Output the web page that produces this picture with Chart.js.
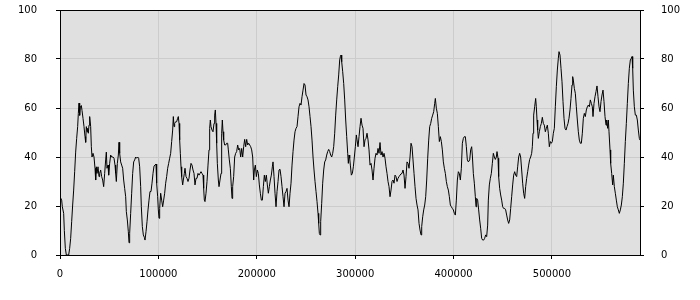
<!DOCTYPE html>
<html><head><meta charset="utf-8">
<script src="https://cdn.jsdelivr.net/npm/chart.js@4"></script>
<style>html,body{margin:0;padding:0;background:#fff}#c{display:block}</style>
</head><body>
<canvas id="c" width="700" height="300"></canvas>
<script>
const xs=[0,1694,2372,3727,4404,5421,6437,8809,9825,10842,11858,12874,13891,14907,15924,16940,17956,18634,19312,19989,20667,21683,22361,23377,24394,25410,26088,26765,27443,28120,28798,29476,30153,31170,31847,32525,33541,34558,35574,36252,36929,37607,38623,39640,40317,41334,42350,43366,44383,45399,46416,47093,47771,48787,49465,50481,51498,52514,53869,54886,55902,56580,57257,58274,59290,59968,60645,61662,62678,63694,64711,65727,66744,67421,68438,69454,70132,70809,71826,72842,73858,74875,75891,76908,77924,78940,79957,80973,81990,82667,83684,84700,85716,86394,87410,88427,89443,90460,91476,92492,93509,94525,95542,96558,97574,98252,99268,99946,100624,101301,102318,103334,104350,105367,106383,107400,108416,109432,110449,111465,112482,113498,114514,115192,115870,116547,117564,118580,119596,120274,120952,121629,122307,122984,123662,124678,125356,126372,127050,128066,129083,130099,131116,132132,133148,134165,135181,136198,137214,138230,139247,140263,141280,142296,143312,144329,145345,146023,146700,147378,148394,149411,150427,151444,152121,152799,153476,154493,155509,156526,157203,157881,158558,159236,159914,160930,161608,162624,163640,164318,164996,165673,166351,167367,168384,169400,170416,171094,172110,173127,174143,174821,175498,176515,177531,178548,179564,180580,181597,182613,
183645,184662,185678,186695,187711,188727,189744,190760,191777,192793,193809,194826,195842,196859,197536,198553,199569,200585,201602,202618,203635,204651,205667,206684,207700,208717,209733,210749,211766,212782,213799,214815,215831,216509,217525,218542,219558,220575,221591,222607,223624,224640,225657,226673,227689,228706,229722,230739,231755,232771,233788,234804,235821,236837,237853,238870,239886,240903,241919,242935,243952,244968,245985,247001,248017,249034,250050,251067,252083,253099,254116,255132,256149,257165,258181,259198,260214,261231,262247,262925,263602,264280,264957,265974,266990,268007,269023,270039,271056,272072,273089,274105,275121,276138,277154,278171,279187,280203,281220,282236,283253,284269,284947,285624,286302,287318,288335,289351,290367,291384,292400,293078,293755,294433,295111,296127,297143,298160,299176,300193,301209,301887,302903,303919,304936,305952,306969,307985,309001,310018,311034,312051,313067,314083,315100,316116,317133,318149,319165,320182,321198,322215,323231,324247,325264,326280,327297,328313,329329,330346,331362,332379,333395,334411,335428,336444,337461,338477,339493,340510,341526,342543,343559,344575,345592,346608,347625,348641,349657,350674,351690,352707,353723,354739,355756,356772,357789,358805,359821,360838,361854,362871,363887,364903,365920,366936,367614,368630,369647,370663,371679,372696,373712,374729,375745,376761,377778,378794,379811,380827,381505,382521,383537,384554,385570,386587,387603,388619,389636,390652,391669,392685,393701,394718,395734,396751,397767,398783,399800,400816,401833,402849,403865,404882,405898,406915,407931,408947,409964,410980,411997,413013,414029,415046,416401,
417395,418412,419089,420106,421122,422139,422816,423494,424510,425527,426543,427559,428576,429592,430609,431625,432641,433658,434674,435352,436368,437385,438401,439417,440434,441450,442467,443483,444161,445177,445855,446871,447887,448904,449920,450937,451953,452969,453986,455002,456019,457035,458051,459068,460084,461101,462117,463133,464150,465166,466183,467199,468215,469232,470248,471265,472281,473297,474314,475330,476347,477363,478379,479396,480073,480751,481429,482445,483461,484139,484817,485494,486172,487188,488205,489221,490237,491254,492270,493287,494303,495319,496336,497352,498369,499385,500401,501418,502434,503451,504467,505483,506500,507177,508194,509210,510227,511243,512259,513276,514292,515309,516325,517341,518358,519374,520391,521068,521746,522762,523779,524795,525811,526828,527844,528861,529877,530893,531910,532926,533943,534959,535975,536992,538008,539025,540041,541057,541735,542751,543768,544784,545801,546817,547833,548850,549866,550883,551899,552915,553932,554948,555626,556642,557320,557997,559014,559691,560708,561724,562402,563418,564435,565451,566467,567484,568500,569517,570533,571549,572566,573582,574599,575615,576631,577648,578664,579681,580697,581375,582052,582730,583746,584763,585779,586795,587812,588829,589500];
const ys=[23.8,22.4,19.7,17,10,2.7,0,0,2.7,6.8,13.6,20.4,26.5,34,42,47.6,52.4,57.8,62,57,60.5,61,59,55.8,52.4,48.3,46,52.4,50.3,51.7,49.7,53,56.5,52.4,44.2,40,41.5,40,35.4,30.6,36,33.3,36,32,33.3,34.7,32,30.6,27.9,33.3,38.8,42,35.4,36.7,32.6,37.4,40.8,40,40,39.5,36.7,33.3,30,37.4,40.8,46,41.5,38,36.7,35.4,30.6,27.2,23.8,17.7,14.3,9.5,5,8.8,17,25.2,33.3,38,38.8,40,39.5,40,39.5,36,27.9,19.7,11.6,8.2,7.2,6.1,9.5,13.6,18.4,22.4,25.9,25.9,29.3,33.3,36.3,36.7,37.1,29.3,23.8,18.4,15,19,25.2,22.4,19.7,22.4,25.2,29.3,32,35.4,37.4,39.5,41.5,46.3,51,56.5,52.4,53.7,54.4,54.4,55.8,56.5,53.7,47,41.5,36,32,28.6,30.6,33.3,35.4,32,31.3,30,31.3,34.7,37.4,36.7,34.7,33.3,28.6,31.3,31.3,33.3,32.6,33.3,34,33.3,32.6,27.2,22.4,21.8,25.2,30,36.7,42.9,51.7,55.1,52.4,51,50.3,53.7,57.1,59.2,53.7,45.6,37.4,30.6,27.9,30.6,33.3,49.7,55.1,50.3,47,44.9,44.9,45.6,45.6,42.9,38.8,35.4,27.9,23.1,27.9,32,40,41.5,42.2,44.9,42.9,43.5,
40,43.5,40,44.2,47.2,44.2,47.2,44.9,45.6,44.9,44.2,42.9,40,30.6,34.7,36.7,32,34.7,33.3,28.6,25.2,22.4,22.4,27.9,32.6,30,32.6,28.6,25.2,27.9,30.6,32.6,36,38,32,25.2,19.7,25.9,30,34.7,35,32,27.9,23.8,19.7,25.2,25.9,27.2,22.4,19.7,25.2,29.3,36.7,42.2,46.9,50.3,51.7,52.4,56.5,60.5,61.9,61.2,64.6,67.3,70,69.4,65.3,64.6,63.3,60.5,56.5,52.4,46.9,40,34.7,30,25.9,21.8,17,12.9,8.8,8.2,13.6,21.1,29.3,34.7,38,38.8,40.8,42.2,43.1,42.2,40.8,40,41.5,44.2,49.7,57.1,63.3,68.7,73.5,79.6,81,81.6,78.9,74.8,70,63.3,55.1,48.3,41.5,37.4,40.8,39.5,36.7,32.6,33.3,36,40,44.2,49,47,44.2,48.3,52.4,55.8,53,51.7,44.2,47,47.6,49.7,47,42.9,36.7,37.4,34.7,30.6,35.4,39.5,41.5,40.8,43.5,41.5,45.9,40.8,42.2,40,41.5,39.5,36,33.3,30,27.9,23.8,26.5,30,30.6,29.3,32.6,32,30,31.3,32,32.6,33.1,33.3,34.7,32.6,27.2,32,38,37.4,35.4,40,45.6,44.2,38.8,33.3,27.9,23.1,20.4,18.4,12.9,10.2,8.2,11.6,15.6,18.4,20.4,23.8,30.6,39.5,46.9,52.4,53.7,55.8,57.1,58.5,61.9,63.9,59.9,57.8,52.4,46.3,48.3,46.3,42.9,38,35.4,33.3,30,27.9,26.5,23.8,20.4,19.7,19,18.4,17,16.3,22.4,30.6,34,33.3,30.6,35.4,45.6,47.6,48.3,48.3,44.2,38.8,38,38.8,
42.9,44.2,40.8,33.3,29.3,23.8,19.7,23.1,22.4,18.4,14.3,10.9,6.8,6.1,6.1,6.8,8.2,7.5,12.2,22.4,28.6,31.3,33.3,37.4,41.5,40,39,40,42.2,39.5,32,27.2,24.5,22.4,19.7,19,19,18.4,16.3,14.3,12.9,14.3,19,23.8,28.6,32.6,34,32.6,32,36,40,41.5,40,34.7,29.3,25.2,23.1,27.9,31.3,34,36.7,39,40,41.5,44.2,49.7,57.1,60.5,63.9,60.5,55.1,51,47.6,50.3,52.4,53.7,56.2,53.7,53,50.3,51.7,53,49.7,44.2,46.3,45.6,46.3,49.7,51.7,60.5,68.7,75.5,80.3,83,81.6,76.2,70.7,62.6,55.8,51.7,51,52.4,53.7,55.8,59.2,63.9,69.4,72.8,71.4,68,66,60.5,55.1,50.3,46.9,45.6,45.6,49.7,55.8,57.8,56.5,59.2,60.5,61.2,60.5,63.3,61.9,60.5,56.5,61.9,64.6,66.7,69,64.6,60.5,58.5,62.6,65.3,67.3,62.6,56.5,53,55.1,51.7,55.1,50.3,42.9,37.4,33.3,28.6,32.6,27.9,25.2,22.4,19.7,18.4,17,18.4,20.4,23.8,29.3,37.4,46.3,53.7,61.9,70,76.2,79.6,80.3,81,76.2,67.3,60.5,57.1,57.1,55.1,51,47.6,46.9];
const xTicks=[0,100000,200000,300000,400000,500000];
const yTicks=[0,20,40,60,80,100];
const xMax=589500;

const points=xs.map((x,i)=>({x:x,y:ys[i]}));
const FONT={family:'"DejaVu Sans", sans-serif',size:10};

const framePlugin={
  id:'frame',
  beforeDraw(chart){
    const a=chart.chartArea,ctx=chart.ctx;
    ctx.save();ctx.fillStyle='#e0e0e0';
    ctx.fillRect(a.left,a.top,a.right-a.left,a.bottom-a.top);
    ctx.restore();
  },
  afterDraw(chart){
    const a=chart.chartArea,ctx=chart.ctx;
    ctx.save();ctx.strokeStyle='#000';ctx.lineWidth=1;
    ctx.strokeRect(Math.round(a.left)+0.5,Math.round(a.top)+0.5,Math.round(a.right-a.left),Math.round(a.bottom-a.top));
    ctx.restore();
  }
};
function fitY(s){s.width=60;s.paddingTop=10;s.paddingBottom=0;}

new Chart(document.getElementById('c'),{
  type:'line',
  data:{datasets:[{data:points,borderColor:'#000',borderWidth:1,pointRadius:0,tension:0,fill:false,yAxisID:'y'}]},
  options:{
    responsive:false,animation:false,devicePixelRatio:1,
    layout:{padding:0},
    plugins:{legend:{display:false},tooltip:{enabled:false}},
    scales:{
      x:{type:'linear',min:0,max:xMax,
        afterBuildTicks:s=>{s.ticks=xTicks.map(v=>({value:v}));},
        afterFit:s=>{s.height=45;},
        border:{display:false},
        grid:{color:'#cccccc',tickColor:'#000',tickLength:4,lineWidth:1},
        ticks:{font:FONT,color:'#000',padding:9,maxRotation:0,callback:v=>String(v)}},
      y:{type:'linear',position:'left',min:0,max:100,
        afterBuildTicks:s=>{s.ticks=yTicks.map(v=>({value:v}));},
        afterFit:fitY,
        border:{display:false},
        grid:{color:'#cccccc',tickColor:'#000',tickLength:4},
        ticks:{font:FONT,color:'#000',padding:19,callback:v=>String(v)}},
      y2:{type:'linear',position:'right',min:0,max:100,
        afterBuildTicks:s=>{s.ticks=yTicks.map(v=>({value:v}));},
        afterFit:fitY,
        border:{display:false},
        grid:{drawOnChartArea:false,tickColor:'#000',tickLength:4},
        ticks:{font:FONT,color:'#000',padding:17,callback:v=>String(v)}}
    }
  },
  plugins:[framePlugin]
});
</script>
</body></html>
